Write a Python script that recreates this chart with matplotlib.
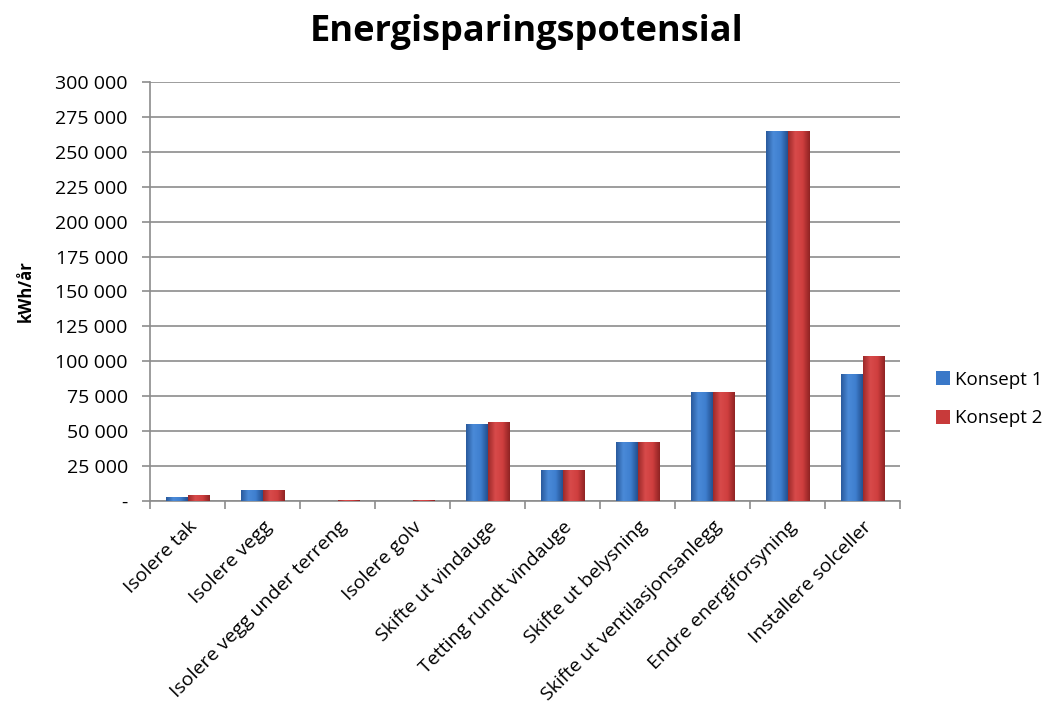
import numpy as np
import matplotlib
matplotlib.use("Agg")
import matplotlib.pyplot as plt
from matplotlib.colors import LinearSegmentedColormap

categories = ["Isolere tak", "Isolere vegg", "Isolere vegg under terreng", "Isolere golv",
              "Skifte ut vindauge", "Tetting rundt vindauge", "Skifte ut belysning",
              "Skifte ut ventilasjonsanlegg", "Endre energiforsyning", "Installere solceller"]
konsept1 = [3000, 8000, 0, 0, 55000, 22000, 42000, 78000, 265000, 91000]
konsept2 = [4000, 8000, 1000, 1000, 56500, 22000, 42000, 78000, 265000, 104000]
series_names = ["Konsept 1", "Konsept 2"]
yticks = list(range(0, 300001, 25000))

plt.rcParams['font.family'] = ['Open Sans', 'DejaVu Sans']

fig = plt.figure(figsize=(10.53, 7.17), dpi=100)
ax = fig.add_axes([0.1425, 0.3013, 0.7125, 0.5843])

x = np.arange(len(categories))
w = 0.29
blue = "#3a78c8"
red = "#c83a3a"
cmap_b = LinearSegmentedColormap.from_list("b", ["#2a5a9c", "#4a8ad8", "#3f7fcf", "#23508f"])
cmap_r = LinearSegmentedColormap.from_list("r", ["#9c2a2a", "#d84a4a", "#cf3f3f", "#8f2323"])

bars1 = ax.bar(x - w / 2, konsept1, w, color=blue, label=series_names[0], zorder=3)
bars2 = ax.bar(x + w / 2, konsept2, w, color=red, label=series_names[1], zorder=3)

# horizontal shading across each bar
grad = np.linspace(0, 1, 64).reshape(1, -1)
for bars, cm in ((bars1, cmap_b), (bars2, cmap_r)):
    for b in bars:
        h = b.get_height()
        if h <= 0:
            continue
        x0, y0 = b.get_x(), b.get_y()
        im = ax.imshow(grad, cmap=cm, aspect="auto", extent=(x0, x0 + b.get_width(), y0, y0 + h),
                       zorder=3.5, interpolation="bilinear")
        im.set_clip_path(b)

ax.set_xlim(-0.5, len(categories) - 0.5)
ax.set_ylim(0, 300000)
ax.set_yticks(yticks)
ax.set_yticklabels(["-" if v == 0 else f"{v:,}".replace(",", " ") for v in yticks], fontsize=14)
ax.yaxis.grid(True, color="#8c8c8c", linewidth=1.2, zorder=0)
ax.set_axisbelow(True)

ax.set_xticks(x)
ax.set_xticklabels(categories, rotation=45, ha="right", rotation_mode="anchor", fontsize=14)
ax.tick_params(axis="x", length=0, pad=12)
ax.set_xticks(np.arange(-0.5, len(categories), 1.0), minor=True)
ax.tick_params(axis="x", which="minor", length=6, color="#8c8c8c", width=1.2)
ax.tick_params(axis="y", length=6, color="#8c8c8c", width=1.2, pad=10)

for s in ("top", "right"):
    ax.spines[s].set_visible(False)
for s in ("left", "bottom"):
    ax.spines[s].set_color("#8c8c8c")
    ax.spines[s].set_linewidth(1.2)

ax.set_ylabel("kWh/år", fontsize=12, fontweight="bold", labelpad=15)
fig.suptitle("Energisparingspotensial", fontsize=26, fontweight="bold", y=0.98)

leg = ax.legend(loc="center left", bbox_to_anchor=(1.048, 0.243), frameon=False,
                fontsize=13.5, handlelength=0.75, handleheight=0.75, handletextpad=0.25,
                labelspacing=1.1, borderpad=0, borderaxespad=0)

fig.savefig("out.png", dpi=100)
